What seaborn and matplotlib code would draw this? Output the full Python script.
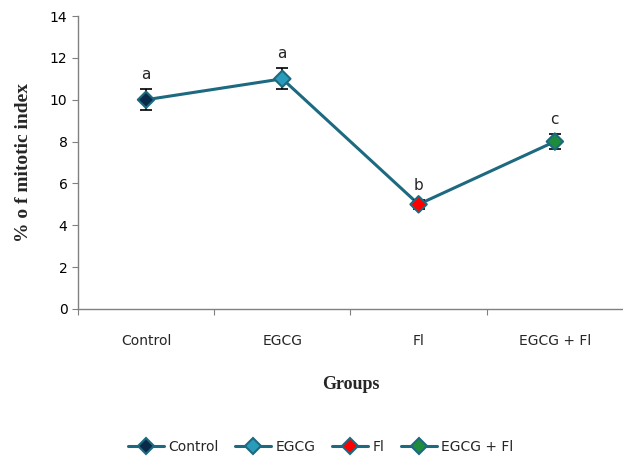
import numpy as np
import pandas as pd
import matplotlib.pyplot as plt
import seaborn as sns
from matplotlib.lines import Line2D

# Data
groups = ['Control', 'EGCG', 'Fl', 'EGCG + Fl']
mitotic_index = [10.0, 11.0, 5.0, 8.0]
sem = [0.5, 0.5, 0.2, 0.35]
letters = ['a', 'a', 'b', 'c']
yticks = [0, 2, 4, 6, 8, 10, 12, 14]

line_color = '#1d6a80'
face_colors = ['#0b2a4a', '#2b9bbb', '#ff0000', '#1e8c3a']

df = pd.DataFrame({'pos': range(len(groups)), 'group': groups, 'value': mitotic_index})

sns.set_style('white')
plt.rcParams['font.family'] = ['DejaVu Sans']

fig = plt.figure(figsize=(6.23, 4.59), dpi=100)
ax = fig.add_axes([0.125, 0.327, 0.875, 0.638])

# connecting line
sns.lineplot(data=df, x='pos', y='value', color=line_color, linewidth=2.2, ax=ax, zorder=2)

# error bars
ax.errorbar(df['pos'], df['value'], yerr=sem, fmt='none', ecolor='black',
            elinewidth=1.2, capsize=4, capthick=1.2, zorder=3)

# diamond markers, one colour per group
sns.scatterplot(data=df, x='pos', y='value', hue='group', palette=face_colors,
                marker='D', s=70, edgecolor=line_color, linewidth=1.5,
                legend=False, ax=ax, zorder=4)

# significance letters
for i, (v, e, t) in enumerate(zip(mitotic_index, sem, letters)):
    ax.text(i, v + e + 0.35, t, ha='center', va='bottom', fontsize=11)

ax.set_xlim(-0.5, 3.5)
ax.set_ylim(0, 14)
ax.set_yticks(yticks)
# Excel style: tick marks between categories, labels centred
ax.set_xticks(np.arange(len(groups)) - 0.5)
ax.set_xticklabels([])
ax.set_xticks(range(len(groups)), minor=True)
ax.set_xticklabels(groups, minor=True)
ax.tick_params(axis='both', labelsize=10, colors='black', length=4, direction='out',
               bottom=True, left=True, color='#808080')
ax.tick_params(axis='x', which='minor', length=0, pad=18, labelsize=10)
for s in ['top', 'right']:
    ax.spines[s].set_visible(False)
for s in ['left', 'bottom']:
    ax.spines[s].set_color('#808080')
    ax.spines[s].set_linewidth(1)

ax.set_xlabel('Groups', family='Liberation Serif', fontweight='bold', fontsize=13, labelpad=20)
ax.set_ylabel('% o f mitotic index', family='Liberation Serif', fontweight='bold',
              fontsize=14, labelpad=13)

handles = [Line2D([0], [0], color=line_color, linewidth=2.2, marker='D', markersize=8,
                  markerfacecolor=fc, markeredgecolor=line_color, markeredgewidth=1.5)
           for fc in face_colors]
fig.legend(handles, groups, loc='center', bbox_to_anchor=(0.515, 0.027), ncol=4,
           frameon=False, fontsize=10, handlelength=2.6, columnspacing=1.2, handletextpad=0.3)

fig.savefig('out.png', dpi=100)
